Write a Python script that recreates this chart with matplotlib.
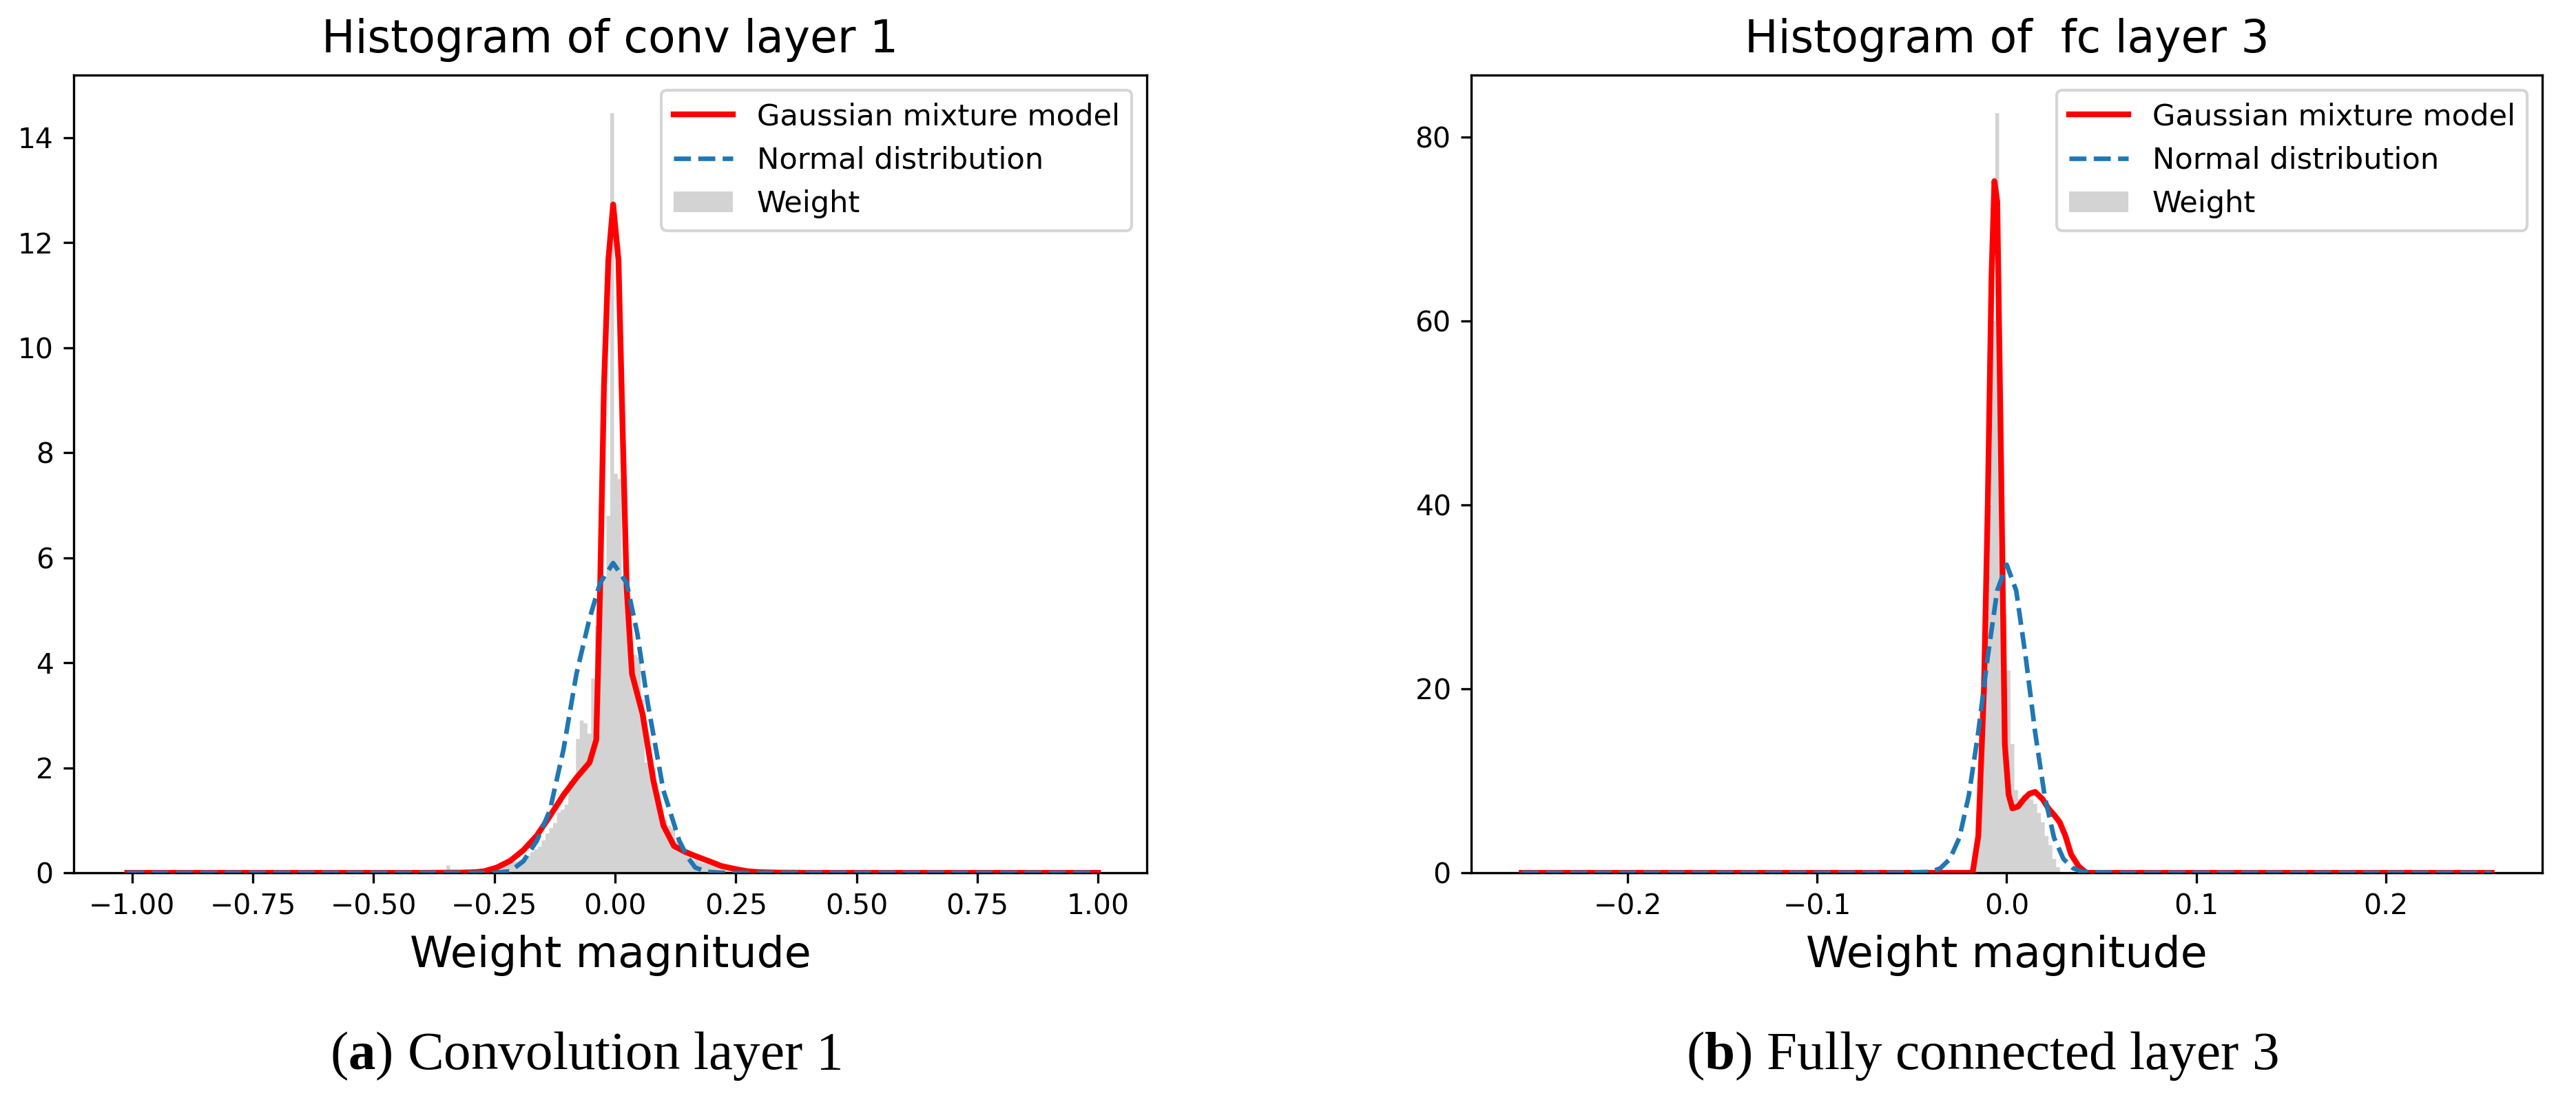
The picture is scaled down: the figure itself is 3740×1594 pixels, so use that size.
import numpy as np
import matplotlib
matplotlib.use("Agg")
import matplotlib.pyplot as plt

plt.rcParams['font.family'] = ['DejaVu Sans']
plt.rcParams['mathtext.fontset'] = 'custom'
plt.rcParams['mathtext.rm'] = 'Liberation Serif'
plt.rcParams['mathtext.bf'] = 'Liberation Serif:bold'

# ---------------- data: conv layer 1 ----------------
conv_range = (-1.02, 1.0)
conv_nbins = 256
conv_first_bin = 96          # index of first listed bin
conv_heights = [0.03, 0.05, 0.08, 0.10, 0.15, 0.18, 0.20, 0.22, 0.25, 0.28,
                0.32, 0.40, 0.45, 0.50, 0.62, 0.75, 0.85, 0.95, 1.15, 1.20,
                1.30, 1.75, 1.80, 2.55, 2.90, 2.85, 2.65, 3.70, 4.70, 5.10,
                5.60, 6.80, 14.47, 7.60, 7.50, 5.60, 4.90, 4.30, 4.15, 4.10,
                3.30, 2.10, 2.05, 2.00, 1.50, 1.05, 1.00, 0.90, 0.85, 0.60,
                0.48, 0.45, 0.35, 0.26, 0.24, 0.20, 0.18, 0.17, 0.15, 0.15,
                0.14, 0.12, 0.10, 0.08, 0.05, 0.03]
conv_stray_bin = 85
conv_stray_height = 0.14

conv_gmm_x = [-1.01, -0.40, -0.32, -0.29, -0.271, -0.245, -0.217, -0.19, -0.162,
              -0.135, -0.107, -0.080, -0.053, -0.039, -0.031, -0.023, -0.014, -0.004,
              0.007, 0.016, 0.024, 0.035, 0.057, 0.079, 0.100, 0.122, 0.145, 0.166,
              0.195, 0.220, 0.250, 0.274, 0.30, 0.34, 0.40, 1.0]
conv_gmm_y = [0.0, 0.0, 0.004, 0.012, 0.03, 0.10, 0.23, 0.43, 0.71,
              1.08, 1.48, 1.81, 2.10, 2.53, 5.42, 9.27, 11.67, 12.73,
              11.67, 8.31, 5.42, 3.79, 3.02, 1.77, 0.90, 0.51, 0.40, 0.32,
              0.22, 0.13, 0.07, 0.03, 0.012, 0.004, 0.0, 0.0]
conv_norm_x = [-1.01, -0.40, -0.25, -0.217, -0.19, -0.162, -0.135, -0.107, -0.080,
               -0.053, -0.031, -0.004, 0.024, 0.046, 0.068, 0.100, 0.133, 0.150,
               0.166, 0.19, 0.22, 0.40, 1.0]
conv_norm_y = [0.0, 0.0, 0.0, 0.03, 0.22, 0.61, 1.19, 2.34, 3.79,
               4.84, 5.52, 5.90, 5.52, 4.56, 3.21, 1.57, 0.61, 0.30,
               0.10, 0.02, 0.0, 0.0, 0.0]

# ---------------- data: fc layer 3 ----------------
fc_range = (-0.257, 0.257)
fc_nbins = 256
fc_first_bin = 119
fc_heights = [1.0, 4.0, 10.0, 25.0, 40.0, 60.0, 82.6, 35.0, 28.0, 22.0,
              14.0, 9.0, 8.0, 8.5, 8.5, 8.0, 7.5, 6.5, 5.5, 4.0,
              3.0, 1.5, 0.6]
fc_gmm_x = [-0.256, -0.030, -0.018, -0.015, -0.012, -0.010, -0.008, -0.0065, -0.005,
            -0.003, -0.001, 0.001, 0.003, 0.006, 0.009, 0.012, 0.015, 0.019, 0.022,
            0.025, 0.028, 0.031, 0.034, 0.038, 0.042, 0.060, 0.256]
fc_gmm_y = [0.0, 0.0, 0.0, 4.0, 20.0, 40.0, 65.0, 75.2, 73.0,
            45.0, 14.0, 8.5, 7.0, 7.2, 8.0, 8.6, 8.8, 8.0, 7.0,
            6.3, 5.5, 4.0, 2.0, 0.7, 0.0, 0.0, 0.0]
fc_norm_x = [-0.256, -0.060, -0.040, -0.035, -0.030, -0.025, -0.020, -0.015, -0.010,
             -0.005, 0.0, 0.005, 0.010, 0.015, 0.020, 0.025, 0.030, 0.035, 0.040,
             0.060, 0.256]
fc_norm_y = [0.0, 0.0, 0.1, 0.5, 1.5, 3.8, 8.4, 15.3, 23.5,
             30.7, 33.5, 30.7, 23.5, 15.3, 8.4, 3.8, 1.5, 0.5, 0.1,
             0.0, 0.0]

titles = ["Histogram of conv layer 1", "Histogram of  fc layer 3"]
captions = [r"($\mathbf{a}$) Convolution layer 1", r"($\mathbf{b}$) Fully connected layer 3"]
xlabel = "Weight magnitude"
labels = ["Gaussian mixture model", "Normal distribution", "Weight"]

# ---------------- figure ----------------
DPI = 300
fig = plt.figure(figsize=(3740 / DPI, 1594 / DPI), dpi=DPI)
ax1 = fig.add_axes([0.0286, 0.2051, 0.4166, 0.7265])
ax2 = fig.add_axes([0.5711, 0.2051, 0.4158, 0.7265])


def build_hist(rng, nbins, first, heights, extra=None):
    edges = np.linspace(rng[0], rng[1], nbins + 1)
    w = np.zeros(nbins)
    w[first:first + len(heights)] = heights
    if extra is not None:
        w[extra[0]] = extra[1]
    centers = 0.5 * (edges[:-1] + edges[1:])
    return edges, centers, w


def draw(ax, edges, centers, w, gx, gy, nx, ny, title, yticks):
    ax.plot(gx, gy, color='red', lw=2.0, label=labels[0], zorder=3)
    ax.plot(nx, ny, color='#1f77b4', lw=1.6, ls='--', label=labels[1], zorder=3)
    ax.hist(centers, bins=edges, weights=w, color='lightgray', label=labels[2],
            histtype='stepfilled', zorder=2)
    ax.set_title(title, fontsize=15.5, pad=8)
    ax.set_xlabel(xlabel, fontsize=15.2, labelpad=5)
    ax.set_yticks(yticks)
    ax.tick_params(labelsize=9.8)
    ax.legend(loc='upper right', fontsize=10.4)


e1, c1, w1 = build_hist(conv_range, conv_nbins, conv_first_bin, conv_heights,
                        (conv_stray_bin, conv_stray_height))
draw(ax1, e1, c1, w1, conv_gmm_x, conv_gmm_y, conv_norm_x, conv_norm_y,
     titles[0], [0, 2, 4, 6, 8, 10, 12, 14])
ax1.set_xticks([-1.0, -0.75, -0.5, -0.25, 0.0, 0.25, 0.5, 0.75, 1.0])

e2, c2, w2 = build_hist(fc_range, fc_nbins, fc_first_bin, fc_heights)
draw(ax2, e2, c2, w2, fc_gmm_x, fc_gmm_y, fc_norm_x, fc_norm_y,
     titles[1], [0, 20, 40, 60, 80])
ax2.set_xticks([-0.2, -0.1, 0.0, 0.1, 0.2])

fig.text(850 / 3740, 1 - 1533 / 1594, captions[0], ha='center', va='center',
         fontsize=19, family='Liberation Serif')
fig.text(2878 / 3740, 1 - 1533 / 1594, captions[1], ha='center', va='center',
         fontsize=19, family='Liberation Serif')

fig.savefig("out.png", dpi=DPI)
